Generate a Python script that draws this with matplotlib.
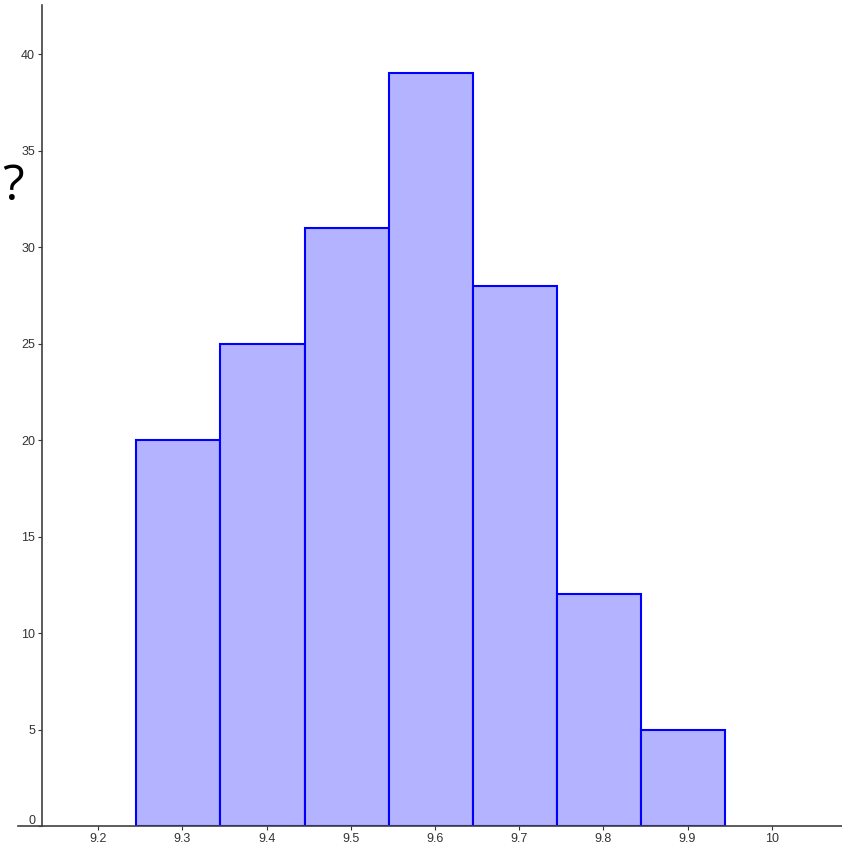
import matplotlib.pyplot as plt
import matplotlib
import matplotlib.transforms as mtransforms
matplotlib.rcParams['font.family'] = ['Liberation Sans', 'DejaVu Sans']

bin_edges = [9.245, 9.345, 9.445, 9.545, 9.645, 9.745, 9.845, 9.945]
counts = [20, 25, 31, 39, 28, 12, 5]
x_ticks = [9.2, 9.3, 9.4, 9.5, 9.6, 9.7, 9.8, 9.9, 10]
x_labels = ['9.2', '9.3', '9.4', '9.5', '9.6', '9.7', '9.8', '9.9', '10']
y_ticks = [0, 5, 10, 15, 20, 25, 30, 35, 40]

fig = plt.figure(figsize=(8.42, 8.46), dpi=100)
ax = fig.add_axes([18 / 842, 20 / 846, 824 / 842, 821 / 846])

lefts = bin_edges[:-1]
widths = [b - a for a, b in zip(bin_edges[:-1], bin_edges[1:])]
ax.bar(lefts, counts, width=widths, align='edge', color='#b3b3ff',
       edgecolor='#0000ff', linewidth=1.5, zorder=2)

ax.set_xlim(9.1046, 10.0835)
ax.set_ylim(0, 42.54)

ax.spines['top'].set_visible(False)
ax.spines['right'].set_visible(False)
ax.spines['left'].set_position(('data', 9.1331))
for s in ['left', 'bottom']:
    ax.spines[s].set_color('#404040')
    ax.spines[s].set_linewidth(1.2)
    ax.spines[s].set_zorder(3)

ax.set_xticks(x_ticks)
ax.set_xticklabels(x_labels)
ax.set_yticks(y_ticks)
ax.tick_params(axis='both', labelsize=9, colors='#333333', length=3, width=0.8, pad=2)

# the 0 label sits a little above the x axis
lbl0 = ax.yaxis.get_major_ticks()[0].label1
lbl0.set_transform(lbl0.get_transform() + mtransforms.ScaledTranslation(0, 0.07, fig.dpi_scale_trans))

fig.text(13 / 842, 1 - 187 / 846, '?', fontsize=36, family='Open Sans',
         ha='center', va='center', color='black')

fig.savefig('out.png', dpi=100)
